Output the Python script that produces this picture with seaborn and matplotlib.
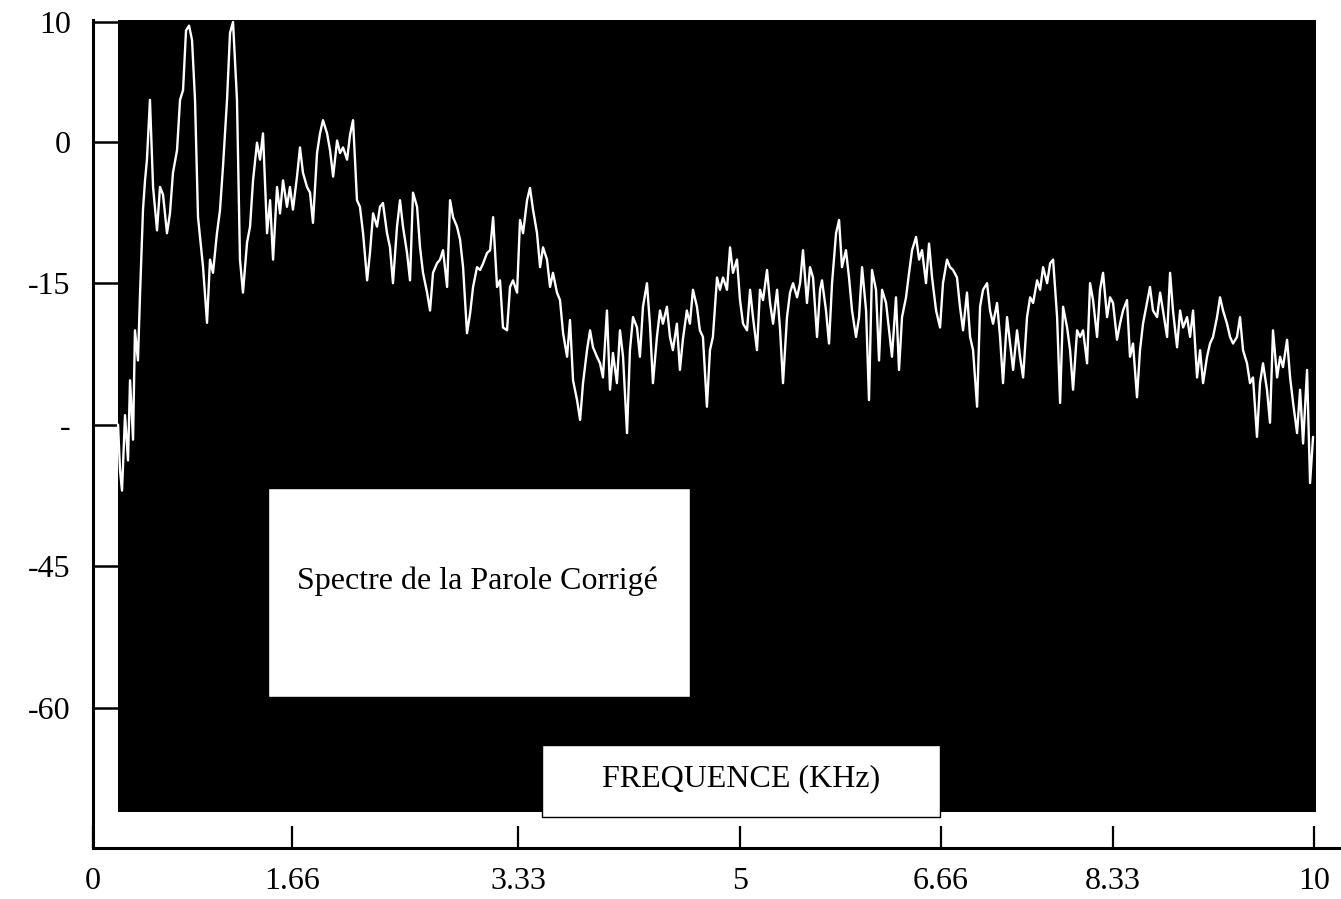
import numpy as np
import pandas as pd
import matplotlib
matplotlib.use("Agg")
import matplotlib.pyplot as plt
from matplotlib.patches import Rectangle
from matplotlib.ticker import FixedLocator, FixedFormatter, NullLocator
import seaborn as sns

# ---------------------------------------------------------------------------
# Corrected speech spectrum: (frequency in kHz, level in dB), split by band
# ---------------------------------------------------------------------------
band_low = [
    (0.209, -30.0), (0.225, -34.8), (0.242, -37.0), (0.267, -29.0), (0.292, -33.8),
    (0.309, -25.3), (0.334, -31.6), (0.350, -20.0), (0.375, -23.2), (0.392, -16.3),
    (0.417, -7.2), (0.434, -4.1), (0.450, -1.9), (0.475, 3.5), (0.501, -4.8),
    (0.534, -9.4), (0.559, -4.8), (0.584, -5.6), (0.617, -9.7), (0.642, -7.6),
    (0.667, -3.3), (0.701, -0.9), (0.726, 3.5), (0.751, 4.3), (0.776, 9.3),
    (0.801, 9.7), (0.826, 8.5), (0.851, 3.5), (0.876, -8.0), (0.918, -13.3),
    (0.951, -19.2), (0.976, -12.5), (1.001, -13.9), (1.034, -9.7), (1.059, -7.3),
    (1.084, -2.7), (1.118, 3.5), (1.143, 9.1), (1.168, 10.0), (1.201, 3.5),
    (1.226, -12.5), (1.251, -16.0), (1.285, -10.7), (1.310, -9.0), (1.335, -4.1),
    (1.368, -0.1), (1.393, -1.9), (1.418, 0.7), (1.452, -9.7), (1.477, -6.2),
    (1.502, -12.5), (1.535, -4.8), (1.560, -7.6), (1.585, -4.1), (1.618, -6.9),
    (1.643, -4.8), (1.667, -7.2), (1.697, -3.7), (1.719, -0.6), (1.741, -3.3),
    (1.771, -4.8), (1.793, -5.4), (1.815, -8.6), (1.845, -1.2), (1.867, 0.7),
    (1.889, 1.8), (1.919, 0.7), (1.941, -0.9), (1.964, -3.7), (1.993, 0.1),
    (2.015, -1.2), (2.037, -0.6), (2.067, -1.9), (2.089, 0.6), (2.111, 1.8),
    (2.140, -6.2),
]

band_mid_low = [
    (2.162, -6.9), (2.185, -9.7), (2.215, -14.7), (2.236, -11.8), (2.259, -7.6),
    (2.288, -9.0), (2.310, -6.9), (2.332, -6.5), (2.362, -9.7), (2.384, -11.2),
    (2.406, -15.0), (2.436, -9.0), (2.458, -6.2), (2.480, -9.0), (2.510, -11.8),
    (2.532, -14.7), (2.554, -5.4), (2.584, -6.9), (2.606, -11.2), (2.628, -13.9),
    (2.658, -16.0), (2.680, -17.9), (2.702, -13.9), (2.731, -12.9), (2.754, -12.5),
    (2.776, -11.5), (2.806, -15.4), (2.828, -6.2), (2.850, -8.0), (2.879, -9.0),
    (2.902, -10.4), (2.924, -13.3), (2.953, -20.3), (2.976, -18.2), (2.998, -15.4),
    (3.027, -13.3), (3.050, -13.6), (3.072, -12.9), (3.101, -11.8), (3.124, -11.5),
    (3.146, -8.0), (3.175, -15.4), (3.197, -14.7), (3.219, -19.7), (3.249, -20.0),
    (3.271, -15.4), (3.293, -14.7), (3.323, -16.0), (3.345, -8.3), (3.368, -9.7),
    (3.398, -6.2), (3.420, -4.9), (3.443, -7.2), (3.473, -9.7), (3.496, -13.3),
    (3.518, -11.2), (3.548, -12.5), (3.571, -15.4), (3.593, -13.9), (3.623, -16.0),
    (3.646, -16.8), (3.669, -20.3), (3.699, -22.8), (3.721, -18.9), (3.744, -25.3),
    (3.774, -27.4), (3.797, -29.5), (3.819, -25.6), (3.849, -22.1),
]

band_mid = [
    (3.872, -20.0), (3.894, -21.8), (3.924, -22.8), (3.947, -23.5), (3.969, -25.0),
    (3.999, -17.9), (4.022, -26.3), (4.044, -22.4), (4.074, -25.6), (4.097, -20.0),
    (4.120, -22.8), (4.150, -30.9), (4.172, -22.1), (4.195, -18.6), (4.225, -19.7),
    (4.247, -22.8), (4.270, -17.5), (4.300, -15.0), (4.322, -19.3), (4.345, -25.6),
    (4.375, -20.7), (4.398, -17.9), (4.420, -19.3), (4.450, -17.5), (4.473, -20.7),
    (4.495, -22.1), (4.525, -19.3), (4.548, -24.2), (4.570, -21.0), (4.600, -17.9),
    (4.623, -19.3), (4.646, -15.7), (4.676, -17.5), (4.698, -20.0), (4.721, -20.7),
    (4.751, -28.1), (4.774, -22.1), (4.796, -20.7), (4.827, -14.4), (4.849, -15.7),
    (4.872, -14.4), (4.902, -15.7), (4.925, -11.2), (4.947, -13.9), (4.977, -12.5),
    (5.000, -16.8), (5.025, -19.3), (5.058, -20.0), (5.083, -15.7), (5.107, -18.6),
    (5.140, -22.1), (5.165, -15.7), (5.190, -16.8), (5.223, -13.6), (5.248, -17.1),
    (5.273, -19.3), (5.306, -15.7), (5.331, -20.0), (5.355, -25.6), (5.388, -18.6),
    (5.413, -16.0), (5.438, -15.0), (5.471, -16.5), (5.496, -15.0), (5.520, -11.5),
    (5.553, -17.1), (5.578, -13.3), (5.603, -14.4), (5.636, -20.7), (5.661, -15.7),
]

band_mid_high = [
    (5.677, -14.7), (5.710, -17.9), (5.735, -21.4), (5.760, -15.0), (5.793, -9.7),
    (5.818, -8.3), (5.842, -13.3), (5.875, -11.5), (5.900, -14.4), (5.925, -17.9),
    (5.958, -20.7), (5.983, -18.6), (6.008, -13.3), (6.041, -17.9), (6.065, -27.4),
    (6.090, -13.6), (6.123, -15.7), (6.148, -23.2), (6.173, -15.7), (6.206, -17.1),
    (6.231, -20.0), (6.255, -22.8), (6.288, -16.5), (6.313, -24.2), (6.338, -18.6),
    (6.371, -16.5), (6.396, -13.9), (6.421, -11.5), (6.454, -10.1), (6.479, -12.5),
    (6.503, -11.5), (6.536, -15.0), (6.561, -10.8), (6.586, -14.4), (6.619, -17.9),
    (6.652, -19.7), (6.679, -15.0), (6.718, -12.5), (6.747, -13.3), (6.777, -13.6),
    (6.815, -14.4), (6.844, -17.5), (6.874, -20.0), (6.912, -16.0), (6.942, -20.7),
    (6.971, -22.1), (7.010, -28.1), (7.039, -17.5), (7.068, -15.7), (7.107, -15.0),
    (7.136, -17.9), (7.165, -19.3), (7.204, -17.1), (7.233, -20.7), (7.262, -25.6),
    (7.301, -18.6), (7.330, -21.4), (7.360, -24.2), (7.398, -20.0), (7.427, -22.8),
    (7.457, -25.0), (7.495, -18.6), (7.525, -16.5), (7.554, -17.1), (7.593, -14.7),
    (7.622, -15.7), (7.651, -13.3), (7.690, -15.0), (7.719, -12.9), (7.748, -12.5),
    (7.787, -18.6), (7.816, -27.7), (7.845, -17.5), (7.884, -19.7),
]

band_high = [
    (7.913, -22.1), (7.942, -26.3), (7.981, -20.0), (8.010, -20.7), (8.039, -20.0),
    (8.078, -23.5), (8.107, -15.0), (8.136, -16.8), (8.175, -20.7), (8.204, -15.7),
    (8.233, -13.9), (8.272, -18.6), (8.301, -16.5), (8.330, -17.1), (8.363, -21.0),
    (8.388, -19.3), (8.413, -17.9), (8.446, -16.8), (8.471, -22.8), (8.496, -21.4),
    (8.529, -27.1), (8.554, -22.1), (8.579, -19.3), (8.612, -17.1), (8.637, -15.4),
    (8.662, -17.9), (8.696, -18.6), (8.721, -16.0), (8.745, -17.9), (8.779, -20.7),
    (8.804, -13.9), (8.828, -17.9), (8.862, -21.8), (8.887, -17.9), (8.912, -19.7),
    (8.945, -18.6), (8.970, -20.7), (8.995, -17.9), (9.028, -25.0), (9.053, -22.1),
    (9.078, -25.6), (9.111, -22.8), (9.136, -21.4), (9.161, -20.7), (9.194, -18.6),
    (9.219, -16.5), (9.244, -17.9), (9.277, -19.3), (9.302, -20.7), (9.327, -21.4),
    (9.360, -20.7), (9.385, -18.6), (9.410, -22.1), (9.443, -23.5), (9.468, -25.6),
    (9.493, -25.0), (9.526, -31.3), (9.551, -25.6), (9.576, -23.5), (9.609, -26.3),
    (9.634, -29.8), (9.659, -20.0), (9.693, -25.0), (9.718, -22.8), (9.742, -23.9),
    (9.776, -21.0), (9.801, -25.0), (9.826, -27.7), (9.859, -30.9), (9.884, -26.3),
    (9.909, -32.0), (9.942, -24.2), (9.967, -36.2), (9.992, -31.3),
]

x_ticks = [0, 1.66, 3.33, 5, 6.66, 8.33, 10]
x_tick_labels = ["0", "1.66", "3.33", "5", "6.66", "8.33", "10"]
y_ticks = [10, 0, -15, -30, -45, -60]
y_tick_labels = ["10", "0", "-15", "-", "-45", "-60"]

title_text = "Spectre de la Parole Corrigé"
xlabel_text = "FREQUENCE (KHz)"

# ---------------------------------------------------------------------------
# Axis geometry of the printed frequency axis (graduations are not evenly spaced)
# ---------------------------------------------------------------------------
x_knots = np.array([0.0, 1.66, 3.33, 5.0, 6.66, 8.33, 10.0])
x_knot_pos = np.array([0.0, 199.0, 425.0, 647.0, 848.0, 1020.0, 1221.0])
pos_gain_above_zero = 1.2694  # the 0..10 dB span is drawn stretched


def _piecewise(v, src, dst):
    v = np.asarray(v, dtype=float)
    out = np.interp(v, src, dst)
    lo_slope = (dst[1] - dst[0]) / (src[1] - src[0])
    hi_slope = (dst[-1] - dst[-2]) / (src[-1] - src[-2])
    out = np.where(v < src[0], dst[0] + (v - src[0]) * lo_slope, out)
    out = np.where(v > src[-1], dst[-1] + (v - src[-1]) * hi_slope, out)
    return out


def x_forward(v):
    return _piecewise(v, x_knots, x_knot_pos)


def x_inverse(v):
    return _piecewise(v, x_knot_pos, x_knots)


def y_forward(v):
    v = np.asarray(v, dtype=float)
    return np.where(v > 0, v * pos_gain_above_zero, v)


def y_inverse(v):
    v = np.asarray(v, dtype=float)
    return np.where(v > 0, v / pos_gain_above_zero, v)


spectrum = pd.DataFrame(
    band_low + band_mid_low + band_mid + band_mid_high + band_high,
    columns=["freq", "level"],
)

# ---------------------------------------------------------------------------
# Figure
# ---------------------------------------------------------------------------
sns.set_style("white")
plt.rcParams["font.family"] = ["Liberation Serif", "DejaVu Serif"]

W, H = 1341, 899
fig = plt.figure(figsize=(W / 100, H / 100), dpi=100)
ax = fig.add_axes([93 / W, 1 - 848 / H, 1 - 93 / W, (848 - 20) / H])
ax.set_facecolor("white")

ax.set_xscale("function", functions=(x_forward, x_inverse))
ax.set_yscale("function", functions=(y_forward, y_inverse))
ax.set_xlim(0, 10.224)
ax.set_ylim(-74.9, 10.17)

# black plotting panel
ax.add_patch(Rectangle((0.209, -71.1), 10.017 - 0.209, 10.17 + 71.1,
                       facecolor="black", edgecolor="none", zorder=1))

sns.lineplot(data=spectrum, x="freq", y="level", color="white", linewidth=1.7,
             estimator=None, sort=False, ax=ax, zorder=3)

ax.set_xlabel("")
ax.set_ylabel("")

ax.xaxis.set_major_locator(FixedLocator(x_ticks))
ax.xaxis.set_major_formatter(FixedFormatter(x_tick_labels))
ax.yaxis.set_major_locator(FixedLocator(y_ticks))
ax.yaxis.set_major_formatter(FixedFormatter(y_tick_labels))
ax.xaxis.set_minor_locator(NullLocator())
ax.yaxis.set_minor_locator(NullLocator())

ax.tick_params(axis="x", direction="in", length=16, width=1.6, pad=14,
               labelsize=23, colors="black", bottom=True)
ax.tick_params(axis="y", direction="in", length=18, width=1.8, pad=16,
               labelsize=23, colors="black", left=True)

for side in ("top", "right"):
    ax.spines[side].set_visible(False)
for side in ("left", "bottom"):
    ax.spines[side].set_visible(True)
    ax.spines[side].set_color("black")
    ax.spines[side].set_linewidth(2.2)

# caption boxes
ax.add_patch(Rectangle((0.1402, 0.1824), 0.4784 - 0.1402, 0.4348 - 0.1824,
                       transform=ax.transAxes, facecolor="white",
                       edgecolor="black", linewidth=1, zorder=4))
ax.text(0.3077, 0.322, title_text, transform=ax.transAxes, ha="center",
        va="center", fontsize=23, color="black", zorder=5)

ax.add_patch(Rectangle((0.3598, 0.0374), 0.6787 - 0.3598, 0.1244 - 0.0374,
                       transform=ax.transAxes, facecolor="white",
                       edgecolor="black", linewidth=1, zorder=4))
ax.text(0.519, 0.0833, xlabel_text, transform=ax.transAxes, ha="center",
        va="center", fontsize=23, color="black", zorder=5)

fig.savefig("out.png", dpi=100, facecolor="white")
